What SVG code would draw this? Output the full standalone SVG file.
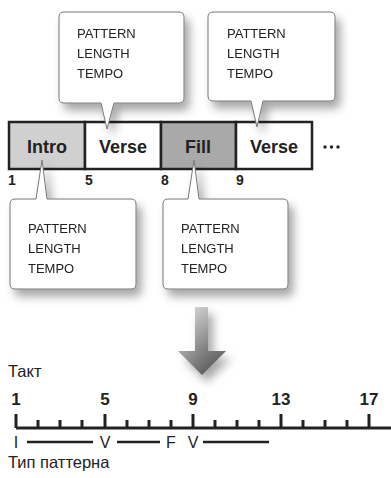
<svg xmlns="http://www.w3.org/2000/svg" width="391" height="478" viewBox="0 0 391 478">
<defs>
<filter id="sh" x="-20%" y="-20%" width="150%" height="150%">
<feDropShadow dx="5" dy="7" stdDeviation="5" flood-color="#000" flood-opacity="0.35"/>
</filter>
<linearGradient id="ag" x1="0" y1="0" x2="0" y2="1">
<stop offset="0" stop-color="#e0e0e0"/>
<stop offset="0.6" stop-color="#8a8a8a"/>
<stop offset="1" stop-color="#5a5a5a"/>
</linearGradient>
<linearGradient id="ag2" x1="0" y1="0" x2="1" y2="0">
<stop offset="0" stop-color="#ffffff" stop-opacity="0.35"/>
<stop offset="1" stop-color="#000000" stop-opacity="0.15"/>
</linearGradient>
</defs>
<style>
.co{fill:#fff;stroke:#777;stroke-width:1;}
.ct{font-family:"Liberation Sans",Arial,sans-serif;font-size:13px;fill:#222;}
.seg{stroke:#222;stroke-width:2.5;}
.st{font-family:"Liberation Sans",Arial,sans-serif;font-weight:bold;font-size:18px;fill:#222;text-anchor:middle;}
.num{font-family:"Liberation Sans",Arial,sans-serif;font-weight:bold;font-size:14px;fill:#222;}
.tn{font-family:"Liberation Sans",Arial,sans-serif;font-weight:bold;font-size:17px;fill:#222;text-anchor:middle;}
.lb{font-family:"Liberation Sans",Arial,sans-serif;font-size:16.5px;fill:#222;}
.pt{font-family:"Liberation Sans",Arial,sans-serif;font-size:16px;fill:#222;text-anchor:middle;}
</style>

<g id="bar">
<g id="intro"><rect x="9" y="122" width="76" height="47" fill="#d0d0d0" class="seg"/><text x="47" y="153" class="st">Intro</text></g>
<g id="verse1"><rect x="85" y="122" width="76" height="47" fill="#fff" class="seg"/><text x="123" y="153" class="st">Verse</text></g>
<g id="fill"><rect x="161" y="122" width="75" height="47" fill="#a9a9a9" class="seg"/><text x="198" y="153" class="st">Fill</text></g>
<g id="verse2"><rect x="236" y="122" width="76" height="47" fill="#fff" class="seg"/><text x="274" y="153" class="st">Verse</text></g>
<g id="dots" fill="#222"><circle cx="325" cy="147" r="1.7"/><circle cx="331.5" cy="147" r="1.7"/><circle cx="338" cy="147" r="1.7"/></g>
</g>

<g id="barnums">
<text x="8" y="185" class="num">1</text>
<text x="85" y="185" class="num">5</text>
<text x="161" y="185" class="num">8</text>
<text x="236" y="185" class="num">9</text>
</g>

<g id="callout1" filter="url(#sh)">
<path class="co" d="M64,12 H179 Q184,12 184,17 V98 Q184,103 179,103 H114 L107,129 L101,103 H64 Q59,103 59,98 V17 Q59,12 64,12 Z"/>
<text class="ct" x="77" y="38">PATTERN</text>
<text class="ct" x="77" y="58">LENGTH</text>
<text class="ct" x="77" y="78">TEMPO</text>
</g>

<g id="callout2" filter="url(#sh)">
<path class="co" d="M213,12 H330 Q335,12 335,17 V96 Q335,101 330,101 H263 L257,127 L251,101 H213 Q208,101 208,96 V17 Q208,12 213,12 Z"/>
<text class="ct" x="227" y="38">PATTERN</text>
<text class="ct" x="227" y="58">LENGTH</text>
<text class="ct" x="227" y="78">TEMPO</text>
</g>

<g id="callout3" filter="url(#sh)">
<path class="co" d="M15,199 H36 L42,160 L47,199 H131 Q136,199 136,204 V284 Q136,289 131,289 H15 Q10,289 10,284 V204 Q10,199 15,199 Z"/>
<text class="ct" x="28" y="233">PATTERN</text>
<text class="ct" x="28" y="253">LENGTH</text>
<text class="ct" x="28" y="273">TEMPO</text>
</g>

<g id="callout4" filter="url(#sh)">
<path class="co" d="M168,199 H188 L194,160 L199,199 H283 Q288,199 288,204 V284 Q288,289 283,289 H168 Q163,289 163,284 V204 Q163,199 168,199 Z"/>
<text class="ct" x="181" y="233">PATTERN</text>
<text class="ct" x="181" y="253">LENGTH</text>
<text class="ct" x="181" y="273">TEMPO</text>
</g>

<g id="arrow" filter="url(#sh)">
<path d="M195,307 H208 V351 H226 L202,375 L178,351 H195 Z" fill="url(#ag)"/>
<path d="M195,307 H208 V351 H226 L202,375 L178,351 H195 Z" fill="url(#ag2)"/>
</g>

<g id="timeline">
<text x="8" y="377" class="lb">Такт</text>
<text x="16" y="405" class="tn">1</text>
<text x="105" y="405" class="tn">5</text>
<text x="193" y="405" class="tn">9</text>
<text x="281" y="405" class="tn">13</text>
<text x="369" y="405" class="tn">17</text>
<g stroke="#222" stroke-width="3" fill="none">
<line x1="16" y1="428" x2="391" y2="428"/>
<path d="M16,414 V428 M105,414 V428 M193,414 V428 M281,414 V428 M369,414 V428"/>
<path d="M38,420 V428 M60,420 V428 M82,420 V428 M127,420 V428 M149,420 V428 M171,420 V428 M215,420 V428 M237,420 V428 M259,420 V428 M303,420 V428 M325,420 V428 M347,420 V428"/>
</g>
<text x="16" y="448" class="pt">I</text>
<text x="105" y="448" class="pt">V</text>
<text x="171" y="448" class="pt">F</text>
<text x="193" y="448" class="pt">V</text>
<g stroke="#222" stroke-width="2.5">
<line x1="27" y1="442" x2="93" y2="442"/>
<line x1="117" y1="442" x2="160" y2="442"/>
<line x1="203" y1="442" x2="269" y2="442"/>
</g>
<text x="8" y="468" class="lb">Тип паттерна</text>
</g>
</svg>
